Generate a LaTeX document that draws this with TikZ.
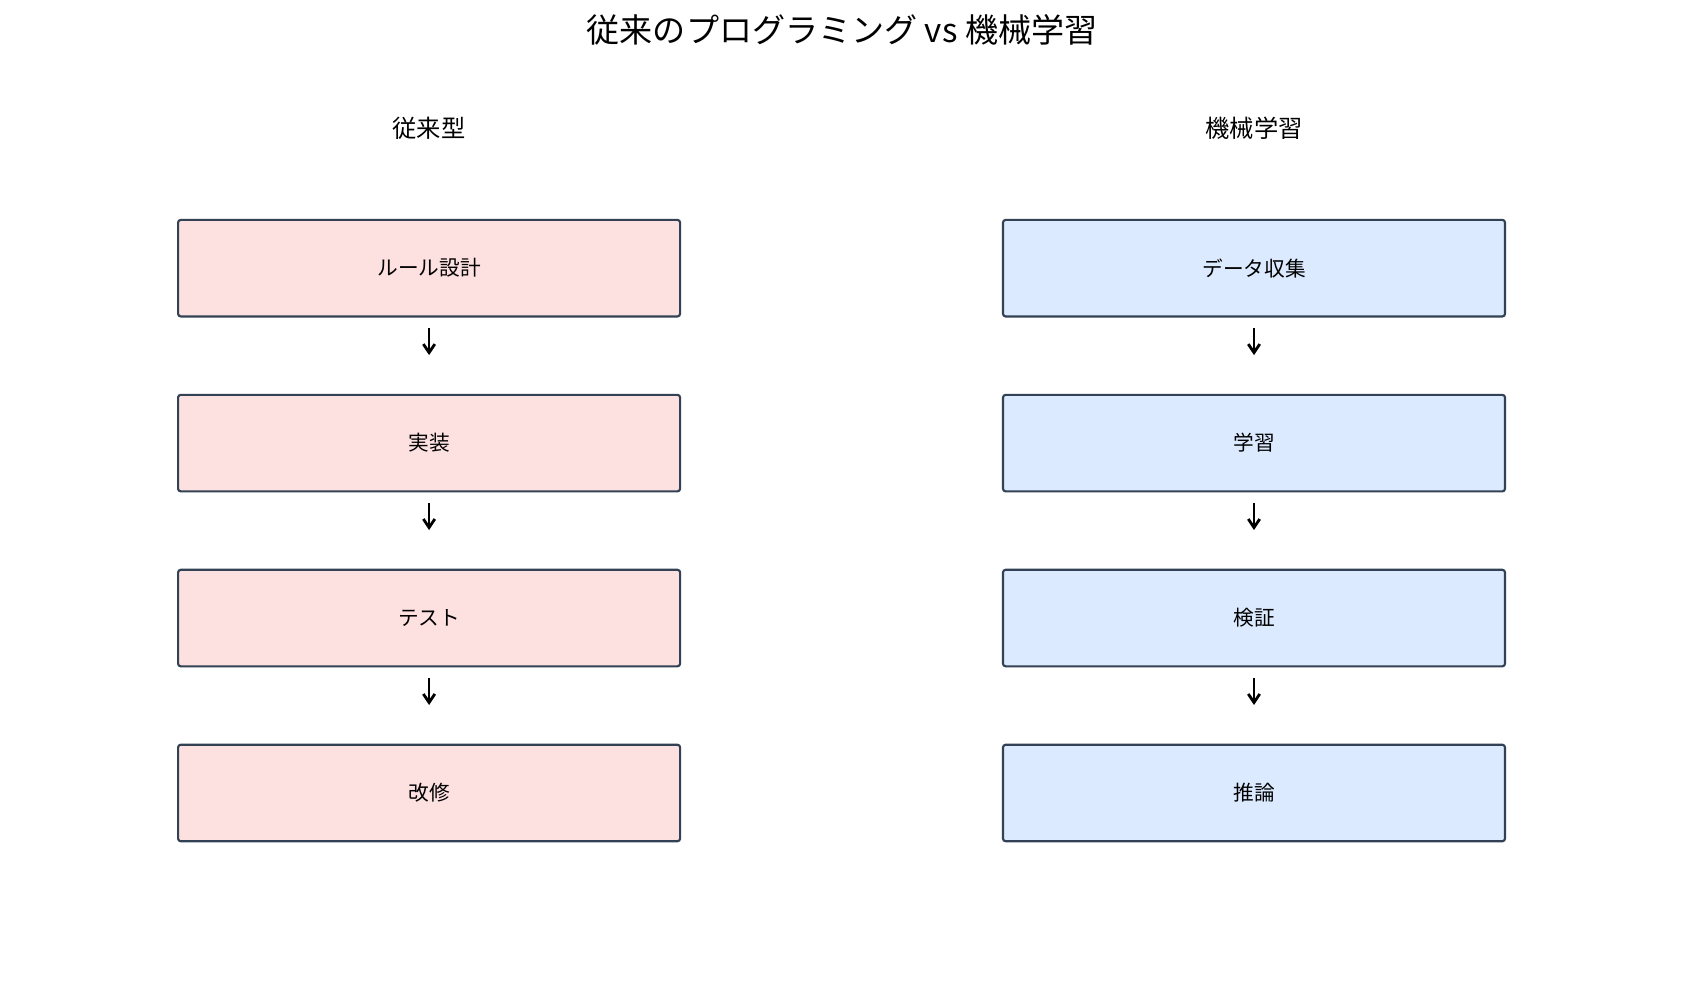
\documentclass[tikz,border=0pt]{standalone}
\usepackage{fontspec}
\setmainfont{Noto Sans CJK JP}
\usepackage{xcolor}
\definecolor{edge}{HTML}{334155}
\definecolor{oldfill}{HTML}{FDE0E0}
\definecolor{mlfill}{HTML}{DBEAFE}
\usetikzlibrary{arrows.meta,positioning}

\begin{document}
\begin{tikzpicture}[x=0.8045pt,y=-0.8045pt,node distance=57.2pt,
                    >={Straight Barb[length=6.4pt,width=8.6pt]},semithick]
  \tikzstyle{every node}=[font=\fontsize{15.5}{18}\selectfont]
  \tikzstyle{stage}=[draw=edge,line width=1.6pt,rounded corners=2pt,
                     minimum width=376.5pt,minimum height=72.4pt,inner sep=0pt]
  \tikzstyle{old}=[stage,fill=oldfill]
  \tikzstyle{ml}=[stage,fill=mlfill]
  \tikzstyle{flow}=[->,line width=2.1pt,shorten <=8pt,shorten >=29pt]

  \useasboundingbox (0,0) rectangle (1568,936);

  \node[font=\fontsize{24.8}{29}\selectfont] (title) at (785,28) {従来のプログラミング vs 機械学習};
  \node[font=\fontsize{18.2}{21}\selectfont] (hA) at (400,120) {従来型};
  \node[font=\fontsize{18.2}{21}\selectfont] (hB) at (1169,120) {機械学習};

  \node[old] (A) at (400,250) {ルール設計};
  \node[old] (B) [below=of A] {実装};
  \node[old] (C) [below=of B] {テスト};
  \node[old] (D) [below=of C] {改修};

  \node[ml] (E) at (1169,250) {データ収集};
  \node[ml] (F) [below=of E] {学習};
  \node[ml] (G) [below=of F] {検証};
  \node[ml] (H) [below=of G] {推論};

  \path (A) edge[flow] (B)
        (B) edge[flow] (C)
        (C) edge[flow] (D)
        (E) edge[flow] (F)
        (F) edge[flow] (G)
        (G) edge[flow] (H);
\end{tikzpicture}
\end{document}
